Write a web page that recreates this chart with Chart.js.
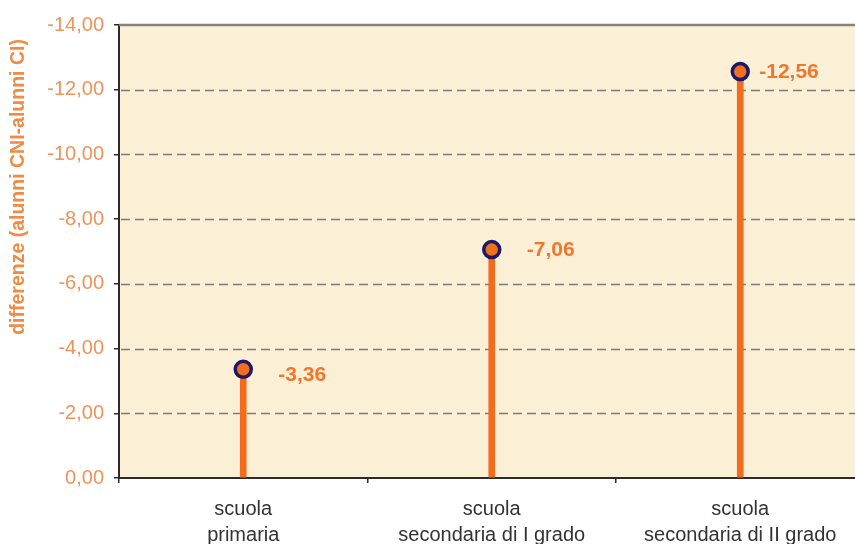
<!DOCTYPE html>
<html>
<head>
<meta charset="utf-8">
<title>Differenze alunni CNI - alunni CI</title>
<script src="https://cdn.jsdelivr.net/npm/chart.js@4.4.1/dist/chart.umd.min.js"></script>
<style>
  html, body { margin: 0; padding: 0; background: #ffffff; overflow: hidden; }
  #wrap { position: relative; width: 876px; height: 544px; }
</style>
</head>
<body>
<div id="wrap"><canvas id="chart" width="876" height="544"></canvas></div>
<script>
// School levels (two-line labels)
const categories = [
  ['scuola', 'primaria'],
  ['scuola', 'secondaria di I grado'],
  ['scuola', 'secondaria di II grado']
];
// Difference in score: alunni CNI minus alunni CI
const differences = [-3.36, -7.06, -12.56];
// Value axis range and step
const yMin = -14;
const yMax = 0;
const yStep = 2;
const yTitle = 'differenze (alunni CNI-alunni CI)';

const FONT = "'Liberation Sans', Arial, sans-serif";
const fmt = v => v.toFixed(2).replace('.', ',').replace('-0,00', '0,00');

// Plot background, dashed grid and the grey top edge
const plotDecor = {
  id: 'plotDecor',
  beforeDraw(chart) {
    const { ctx, chartArea: a } = chart;
    ctx.save();
    ctx.fillStyle = '#fbefd6';
    ctx.fillRect(a.left, a.top, a.right - a.left, a.bottom - a.top);
    ctx.restore();
  },
  beforeDatasetsDraw(chart) {
    const { ctx, chartArea: a, scales: { y } } = chart;
    ctx.save();
    ctx.strokeStyle = '#7d7b78';
    ctx.lineWidth = 1.6;
    ctx.setLineDash([9, 5]);
    y.ticks.forEach(t => {
      if (t.value === yMin || t.value === yMax) return;
      const py = Math.round(y.getPixelForValue(t.value)) + 0.5;
      ctx.beginPath();
      ctx.moveTo(a.left + 2, py);
      ctx.lineTo(a.right, py);
      ctx.stroke();
    });
    ctx.setLineDash([]);
    ctx.strokeStyle = '#85817c';
    ctx.lineWidth = 2.5;
    ctx.beginPath();
    ctx.moveTo(a.left, a.top);
    ctx.lineTo(a.right, a.top);
    ctx.stroke();
    ctx.restore();
  }
};

// Value labels beside each marker (hand-placed offsets per label)
const labelShift = [[35, 6], [35, 1], [19, 1]];
const valueLabels = {
  id: 'valueLabels',
  afterDatasetsDraw(chart) {
    const { ctx } = chart;
    const meta = chart.getDatasetMeta(1);
    ctx.save();
    ctx.fillStyle = '#f0772e';
    ctx.font = 'bold 21px ' + FONT;
    ctx.textAlign = 'left';
    ctx.textBaseline = 'middle';
    meta.data.forEach((pt, i) => {
      const [dx, dy] = labelShift[i];
      ctx.fillText(fmt(differences[i]), pt.x + dx, pt.y + dy);
    });
    ctx.restore();
  }
};

// Rotated axis title
const axisTitle = {
  id: 'axisTitle',
  afterDraw(chart) {
    const { ctx } = chart;
    ctx.save();
    ctx.translate(19, 187);
    ctx.rotate(-Math.PI / 2);
    ctx.fillStyle = '#f08a45';
    ctx.font = 'bold 19.5px ' + FONT;
    ctx.textAlign = 'center';
    ctx.textBaseline = 'middle';
    ctx.fillText(yTitle, 0, 0);
    ctx.restore();
  }
};

new Chart(document.getElementById('chart'), {
  type: 'bar',
  data: {
    labels: categories,
    datasets: [
      {
        type: 'bar',
        data: differences,
        backgroundColor: '#f26c1e',
        borderWidth: 0,
        barThickness: 6,
        order: 1
      },
      {
        type: 'line',
        data: differences,
        showLine: false,
        pointRadius: 8,
        pointBorderWidth: 3.5,
        pointBackgroundColor: '#f0701f',
        pointBorderColor: '#1d1966',
        order: 0
      }
    ]
  },
  options: {
    responsive: false,
    animation: false,
    layout: { padding: { top: 25, right: 4, left: 0, bottom: 0 } },
    plugins: {
      legend: { display: false },
      tooltip: { enabled: false }
    },
    scales: {
      x: {
        offset: true,
        afterFit(scale) { scale.height = 66; },
        grid: {
          drawOnChartArea: false,
          offset: true,
          color: '#2b2b2b',
          lineWidth: 1.5,
          tickLength: 5
        },
        border: { color: '#2b2b2b', width: 2 },
        ticks: {
          color: '#333333',
          padding: 13,
          font: { family: FONT, size: 20, lineHeight: 1.33 }
        }
      },
      y: {
        reverse: true,
        min: yMin,
        max: yMax,
        afterFit(scale) { scale.width = 119; },
        grid: {
          drawOnChartArea: false,
          color: '#2b2b2b',
          lineWidth: 1.5,
          tickLength: 5
        },
        border: { color: '#2b2b2b', width: 2 },
        ticks: {
          stepSize: yStep,
          color: '#f0935a',
          padding: 10,
          font: { family: FONT, size: 20 },
          callback: v => fmt(v)
        }
      }
    }
  },
  plugins: [plotDecor, valueLabels, axisTitle]
});
</script>
</body>
</html>
